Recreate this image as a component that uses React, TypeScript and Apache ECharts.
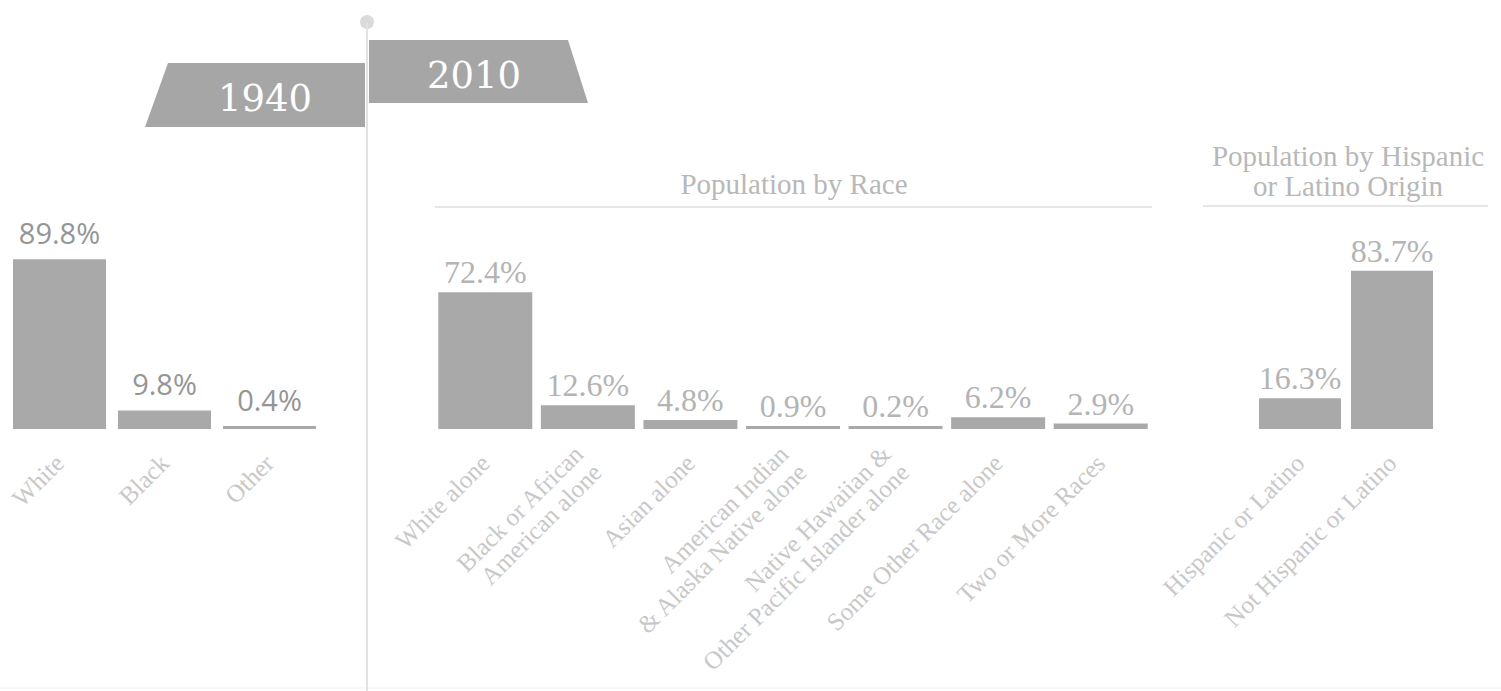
import React, { useEffect, useRef } from "react";
import * as echarts from "echarts";

const cats1940 = ["White", "Black", "Other"];
const values1940 = [89.8, 9.8, 0.4];

const raceCats = [
  "White alone",
  "Black or African\nAmerican alone",
  "Asian alone",
  "American Indian\n& Alaska Native alone",
  "Native Hawaiian &\nOther Pacific Islander alone",
  "Some Other Race alone",
  "Two or More Races",
];
const raceValues = [72.4, 12.6, 4.8, 0.9, 0.2, 6.2, 2.9];

const hispCats = ["Hispanic or Latino", "Not Hispanic or Latino"];
const hispValues = [16.3, 83.7];

const yearLabels = ["1940", "2010"];
const titleRace = "Population by Race";
const titleHisp = "Population by Hispanic\nor Latino Origin";

const BAR = "#a9a9a9";
const SERIF = "'Liberation Serif', serif";

export default function App() {
  const ref = useRef<HTMLDivElement>(null);
  useEffect(() => {
    if (!ref.current) return;
    const chart = echarts.init(ref.current, null, { renderer: "svg" });
    const axisLabel = {
      rotate: 45,
      interval: 0,
      margin: 30,
      fontFamily: SERIF,
      fontSize: 25,
      color: "#c8c8c8",
      lineHeight: 26,
    };
    const xBase = {
      type: "category" as const,
      axisLine: { show: false },
      axisTick: { show: false },
      axisLabel,
    };
    const yBase = {
      type: "value" as const,
      min: 0,
      max: 100,
      show: false,
      splitLine: { show: false },
    };
    const fmt = (p: any) => p.value.toFixed(1) + "%";
    chart.setOption({
      animation: false,
      grid: [
        { left: 7, width: 315, top: 240, height: 189 },
        { left: 434, width: 718, top: 240, height: 189 },
        { left: 1254, width: 184, top: 240, height: 189 },
      ],
      xAxis: [
        { ...xBase, gridIndex: 0, data: cats1940 },
        { ...xBase, gridIndex: 1, data: raceCats },
        { ...xBase, gridIndex: 2, data: hispCats },
      ],
      yAxis: [
        { ...yBase, gridIndex: 0 },
        { ...yBase, gridIndex: 1 },
        { ...yBase, gridIndex: 2 },
      ],
      series: [
        {
          type: "bar",
          xAxisIndex: 0,
          yAxisIndex: 0,
          data: values1940,
          barWidth: 93,
          barMinHeight: 3,
          itemStyle: { color: BAR },
          label: {
            show: true,
            position: "top",
            distance: 12,
            formatter: fmt,
            fontFamily: "'Open Sans', sans-serif",
            fontSize: 29,
            color: "#959595",
          },
        },
        {
          type: "bar",
          xAxisIndex: 1,
          yAxisIndex: 1,
          data: raceValues,
          barWidth: 94,
          barMinHeight: 3,
          itemStyle: { color: BAR },
          label: {
            show: true,
            position: "top",
            distance: 4,
            formatter: fmt,
            fontFamily: SERIF,
            fontSize: 32,
            color: "#b4b4b4",
          },
        },
        {
          type: "bar",
          xAxisIndex: 2,
          yAxisIndex: 2,
          data: hispValues,
          barWidth: 82,
          barMinHeight: 3,
          itemStyle: { color: BAR },
          label: {
            show: true,
            position: "top",
            distance: 4,
            formatter: fmt,
            fontFamily: SERIF,
            fontSize: 32,
            color: "#b4b4b4",
          },
        },
      ],
      graphic: [
        {
          type: "line",
          shape: { x1: 367, y1: 22, x2: 367, y2: 691 },
          style: { stroke: "#e2e2e2", lineWidth: 2 },
          z: 1,
        },
        {
          type: "circle",
          shape: { cx: 367, cy: 22, r: 7 },
          style: { fill: "#dadada" },
        },
        {
          type: "polygon",
          shape: { points: [[168, 63], [365, 63], [365, 127], [145, 127]] },
          style: { fill: "#a6a6a6" },
        },
        {
          type: "polygon",
          shape: { points: [[369, 40], [568, 40], [588, 103], [369, 103]] },
          style: { fill: "#a6a6a6" },
        },
        {
          type: "text",
          x: 265,
          y: 98,
          style: {
            text: yearLabels[0],
            fill: "#ffffff",
            font: "37px 'DejaVu Serif', serif",
            align: "center",
            verticalAlign: "middle",
          },
        },
        {
          type: "text",
          x: 474,
          y: 75,
          style: {
            text: yearLabels[1],
            fill: "#ffffff",
            font: "37px 'DejaVu Serif', serif",
            align: "center",
            verticalAlign: "middle",
          },
        },
        {
          type: "text",
          x: 794,
          y: 184,
          style: {
            text: titleRace,
            fill: "#b8b8b8",
            font: "29px 'Liberation Serif', serif",
            align: "center",
            verticalAlign: "middle",
          },
        },
        {
          type: "line",
          shape: { x1: 435, y1: 207, x2: 1152, y2: 207 },
          style: { stroke: "#e6e6e6", lineWidth: 2 },
        },
        {
          type: "text",
          x: 1348,
          y: 171,
          style: {
            text: titleHisp,
            fill: "#b8b8b8",
            font: "29px 'Liberation Serif', serif",
            lineHeight: 30,
            align: "center",
            verticalAlign: "middle",
          },
        },
        {
          type: "line",
          shape: { x1: 1203, y1: 206, x2: 1488, y2: 206 },
          style: { stroke: "#e6e6e6", lineWidth: 2 },
        },
        {
          type: "line",
          shape: { x1: 0, y1: 688, x2: 1501, y2: 688 },
          style: { stroke: "#f2f2f2", lineWidth: 1 },
        },
      ],
    });
    return () => chart.dispose();
  }, []);
  return (
    <div
      ref={ref}
      style={{ position: "fixed", left: 0, top: 0, width: 1501, height: 691, background: "#fff" }}
    />
  );
}
